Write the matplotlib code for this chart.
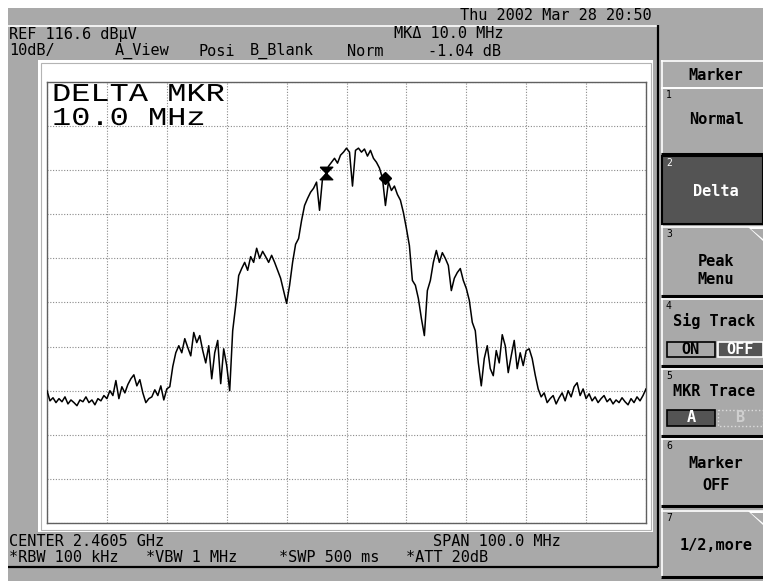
import matplotlib.pyplot as plt
import numpy as np
from matplotlib.patches import Rectangle, PathPatch, Polygon
from matplotlib.textpath import TextPath
from matplotlib.font_manager import FontProperties
from matplotlib.transforms import Affine2D

# analyzer settings (as shown on screen)
ref_level = 116.6      # dBuV, top of screen
db_per_div = 10
center_mhz = 2460.5
span_mhz = 100.0

# trace A, dBuV left to right (uniform sweep points)
levels = [
    46.6, 44.3, 45.0, 43.9, 44.8, 44.1, 45.2, 43.6, 44.5, 43.9,
    43.2, 44.5, 44.1, 45.2, 43.9, 44.5, 43.4, 44.8, 44.3, 45.5,
    44.8, 46.6, 45.5, 48.9, 44.8, 47.5, 46.1, 48.0, 49.3, 50.2,
    47.7, 49.1, 46.1, 43.9, 44.8, 45.2, 46.8, 45.5, 47.7, 44.5,
    47.0, 47.5, 52.1, 55.2, 56.8, 55.2, 58.4, 56.4, 54.5, 59.8,
    57.5, 59.1, 55.7, 52.9, 56.8, 49.3, 55.2, 58.0, 48.2, 56.1,
    52.3, 46.6, 60.2, 65.9, 72.7, 74.3, 75.7, 73.9, 77.0, 75.7,
    78.9, 76.6, 78.2, 77.0, 75.7, 77.3, 75.7, 73.9, 72.1, 69.3,
    66.4, 70.5, 75.7, 79.8, 81.1, 85.2, 88.6, 90.2, 91.6, 92.5,
    93.9, 87.5, 94.8, 95.7, 97.5, 98.4, 99.3, 98.2, 100.0, 100.7,
    101.6, 100.7, 93.0, 101.1, 101.6, 100.7, 101.4, 99.8, 101.1, 99.3,
    98.4, 97.1, 94.8, 88.6, 93.9, 92.0, 93.0, 91.1, 89.8, 87.0,
    83.4, 79.5, 71.6, 70.5, 67.5, 63.0, 59.1, 69.3, 71.6, 75.7,
    78.4, 75.7, 77.9, 76.6, 75.0, 69.3, 72.1, 73.4, 74.3, 71.6,
    69.8, 67.1, 62.1, 60.2, 53.0, 47.7, 53.9, 56.8, 51.6, 50.0,
    55.7, 52.9, 59.3, 56.8, 50.7, 54.5, 58.0, 51.6, 55.2, 52.3,
    55.7, 56.1, 53.9, 50.2, 47.0, 45.2, 46.1, 43.9, 44.8, 45.5,
    43.6, 45.0, 46.1, 44.3, 46.6, 45.2, 47.5, 48.4, 45.5, 47.0,
    44.8, 45.9, 44.3, 45.2, 43.9, 44.8, 45.5, 44.1, 44.8, 43.6,
    44.5, 43.9, 45.0, 44.1, 43.4, 44.8, 43.9, 45.2, 44.3, 45.5,
    47.0]

# markers
mkr_freq = 2457.0
mkr_level = 95.9
dlt_freq = 2467.0
dlt_level = 94.86

GRAY = '#a9a9a9'
DARK = '#545454'
MONO = 'DejaVu Sans Mono'
FS = 11
MX = 714   # centre of the softkey column

fig = plt.figure(figsize=(7.63, 5.81), dpi=100)
fig.patch.set_facecolor('white')

# background "screen" axes in pixel coords
bg = fig.add_axes([0, 0, 1, 1])
bg.set_xlim(0, 763)
bg.set_ylim(581, 0)
bg.axis('off')


def rect(x0, y0, x1, y1, fc, ec='none', lw=0, ls='-', z=1):
    bg.add_patch(Rectangle((x0, y0), x1 - x0, y1 - y0, fc=fc, ec=ec,
                           lw=lw, ls=ls, zorder=z))


def hline(x0, x1, y, c, lw=1.0):
    bg.plot([x0, x1], [y, y], color=c, lw=lw, solid_capstyle='butt', zorder=2)


def vline(x, y0, y1, c, lw=1.0):
    bg.plot([x, x], [y0, y1], color=c, lw=lw, solid_capstyle='butt', zorder=2)


def txt(x, y, s, ha='left', color='black', size=FS, weight='normal'):
    bg.text(x, y, s, ha=ha, va='center', color=color, family=MONO,
            size=size, weight=weight, zorder=5)


def key_txt(x, y, s, color='black'):
    txt(x, y, s, ha='center', color=color, weight='bold')


rect(8, 8, 763, 581, GRAY, z=0)

# left panel edges
hline(8, 658, 25.5, 'white', 1.2)
vline(658, 25, 567, 'black', 1.6)
hline(8, 658, 567, 'black', 1.6)

# header
txt(652, 16, 'Thu 2002 Mar 28 20:50', ha='right')
txt(9, 34, 'REF 116.6 dBµV')
txt(394, 34, 'MKΔ 10.0 MHz')
txt(9, 51, '10dB/')
txt(115, 51, 'A_View')
txt(199, 51, 'Posi')
txt(250, 51, 'B_Blank')
txt(347, 51, 'Norm')
txt(428, 51, '-1.04 dB')

# footer
txt(9, 541, 'CENTER 2.4605 GHz')
txt(433, 541, 'SPAN 100.0 MHz')
txt(9, 558, '*RBW 100 kHz')
txt(146, 558, '*VBW 1 MHz')
txt(279, 558, '*SWP 500 ms')
txt(406, 558, '*ATT 20dB')

# white frame around the graticule
rect(38, 60, 653, 532, 'white', z=1)
rect(40.5, 62.5, 651, 530, 'none', ec='#b4b4b4', lw=0.8, z=2)

# softkey menu
rect(661, 60, 763, 578, GRAY, z=1)
hline(661, 763, 60.5, 'white', 1.2)
vline(661.5, 60, 578, 'white', 1.2)
key_txt(MX + 2, 75, 'Marker')
hline(661, 763, 87.5, 'white', 1.2)

keys = [(87, 155), (155, 225), (226, 297), (298, 367), (368, 437),
        (438, 507), (510, 578)]
for i, (y0, y1) in enumerate(keys):
    dark = (i == 1)
    if dark:
        rect(662, y0 + 1, 763, y1 - 1, DARK, ec='black', lw=1.5, z=2)
    else:
        hline(661, 763, y0 + 1, 'white', 1.2)
        hline(661, 763, y1 - 1.5, 'black', 2.2)
    if i in (2, 6):
        bg.add_patch(Polygon([[748, y0 + 1], [763, y0 + 1], [763, y0 + 15]],
                             closed=True, fc='white', ec='none', zorder=3))
        bg.add_patch(Polygon([[751, y0 + 2.5], [763, y0 + 2.5], [763, y0 + 13]],
                             closed=True, fc=GRAY, ec='none', zorder=3))
    c = 'white' if dark else 'black'
    txt(666, y0 + 8, str(i + 1), color=c, size=7)

key_txt(MX + 2, 119, 'Normal')
key_txt(MX + 2, 192, 'Delta', color='white')
key_txt(MX + 2, 261, 'Peak')
key_txt(MX + 2, 279, 'Menu')
key_txt(MX, 321, 'Sig Track')
key_txt(MX, 392, 'MKR Trace')
key_txt(MX + 2, 464, 'Marker')
key_txt(MX + 2, 486, 'OFF')
key_txt(MX + 2, 546, '1/2,more')

# ON / OFF and A / B toggles
rect(667, 342, 715, 357, GRAY, ec='black', lw=1.2, z=3)
rect(717.5, 342, 763, 357, DARK, ec='white', lw=1.2, z=3)
key_txt(691, 349.5, 'ON')
key_txt(740, 349.5, 'OFF', color='white')
rect(667, 410, 715, 426, DARK, ec='black', lw=1.2, z=3)
rect(717.5, 410, 763, 426, GRAY, ec='#dddddd', lw=1.0, ls=':', z=3)
key_txt(691, 418, 'A', color='white')
key_txt(740, 418, 'B', color='#cfcfcf')

# graticule / trace
ax = fig.add_axes([47 / 763, 1 - 523 / 581, 599 / 763, 441 / 581])
f_start = center_mhz - span_mhz / 2
f_stop = center_mhz + span_mhz / 2
freqs = np.linspace(f_start, f_stop, len(levels))
bottom = ref_level - 10 * db_per_div

ax.set_xlim(f_start, f_stop)
ax.set_ylim(bottom, ref_level)
ax.set_xticks(np.linspace(f_start, f_stop, 11))
ax.set_yticks(np.linspace(bottom, ref_level, 11))
ax.grid(True, color='#8a8a8a', ls=(0, (1, 1.5)), lw=0.8)
ax.tick_params(length=0, labelbottom=False, labelleft=False)
for s in ax.spines.values():
    s.set_color('#606060')
    s.set_linewidth(1.0)

ax.plot(freqs, levels, color='black', lw=1.1, zorder=3)
hourglass = [(-1, 1), (1, 1), (-1, -1), (1, -1), (-1, 1)]
ax.plot([mkr_freq], [mkr_level], marker=hourglass, ms=9, color='black',
        ls='none', zorder=4)
ax.plot([dlt_freq], [dlt_level], marker='D', ms=6.5, color='black',
        ls='none', zorder=4)

# big marker readout, stretched mono text
fp = FontProperties(family='Liberation Mono')


def big_text(s, x, y_base, pitch, cap):
    tp = TextPath((0, 0), s, size=1, prop=fp)
    tr = Affine2D().scale(pitch / 0.6, -cap / 0.66).translate(x, y_base) + bg.transData
    fig.add_artist(PathPatch(tp, transform=tr, fc='black', ec='none', zorder=10))


big_text('DELTA MKR', 52, 101, 19.2, 17)
big_text('10.0 MHz', 52, 125, 19.2, 17)

fig.savefig('out.png', dpi=100, facecolor='white')
